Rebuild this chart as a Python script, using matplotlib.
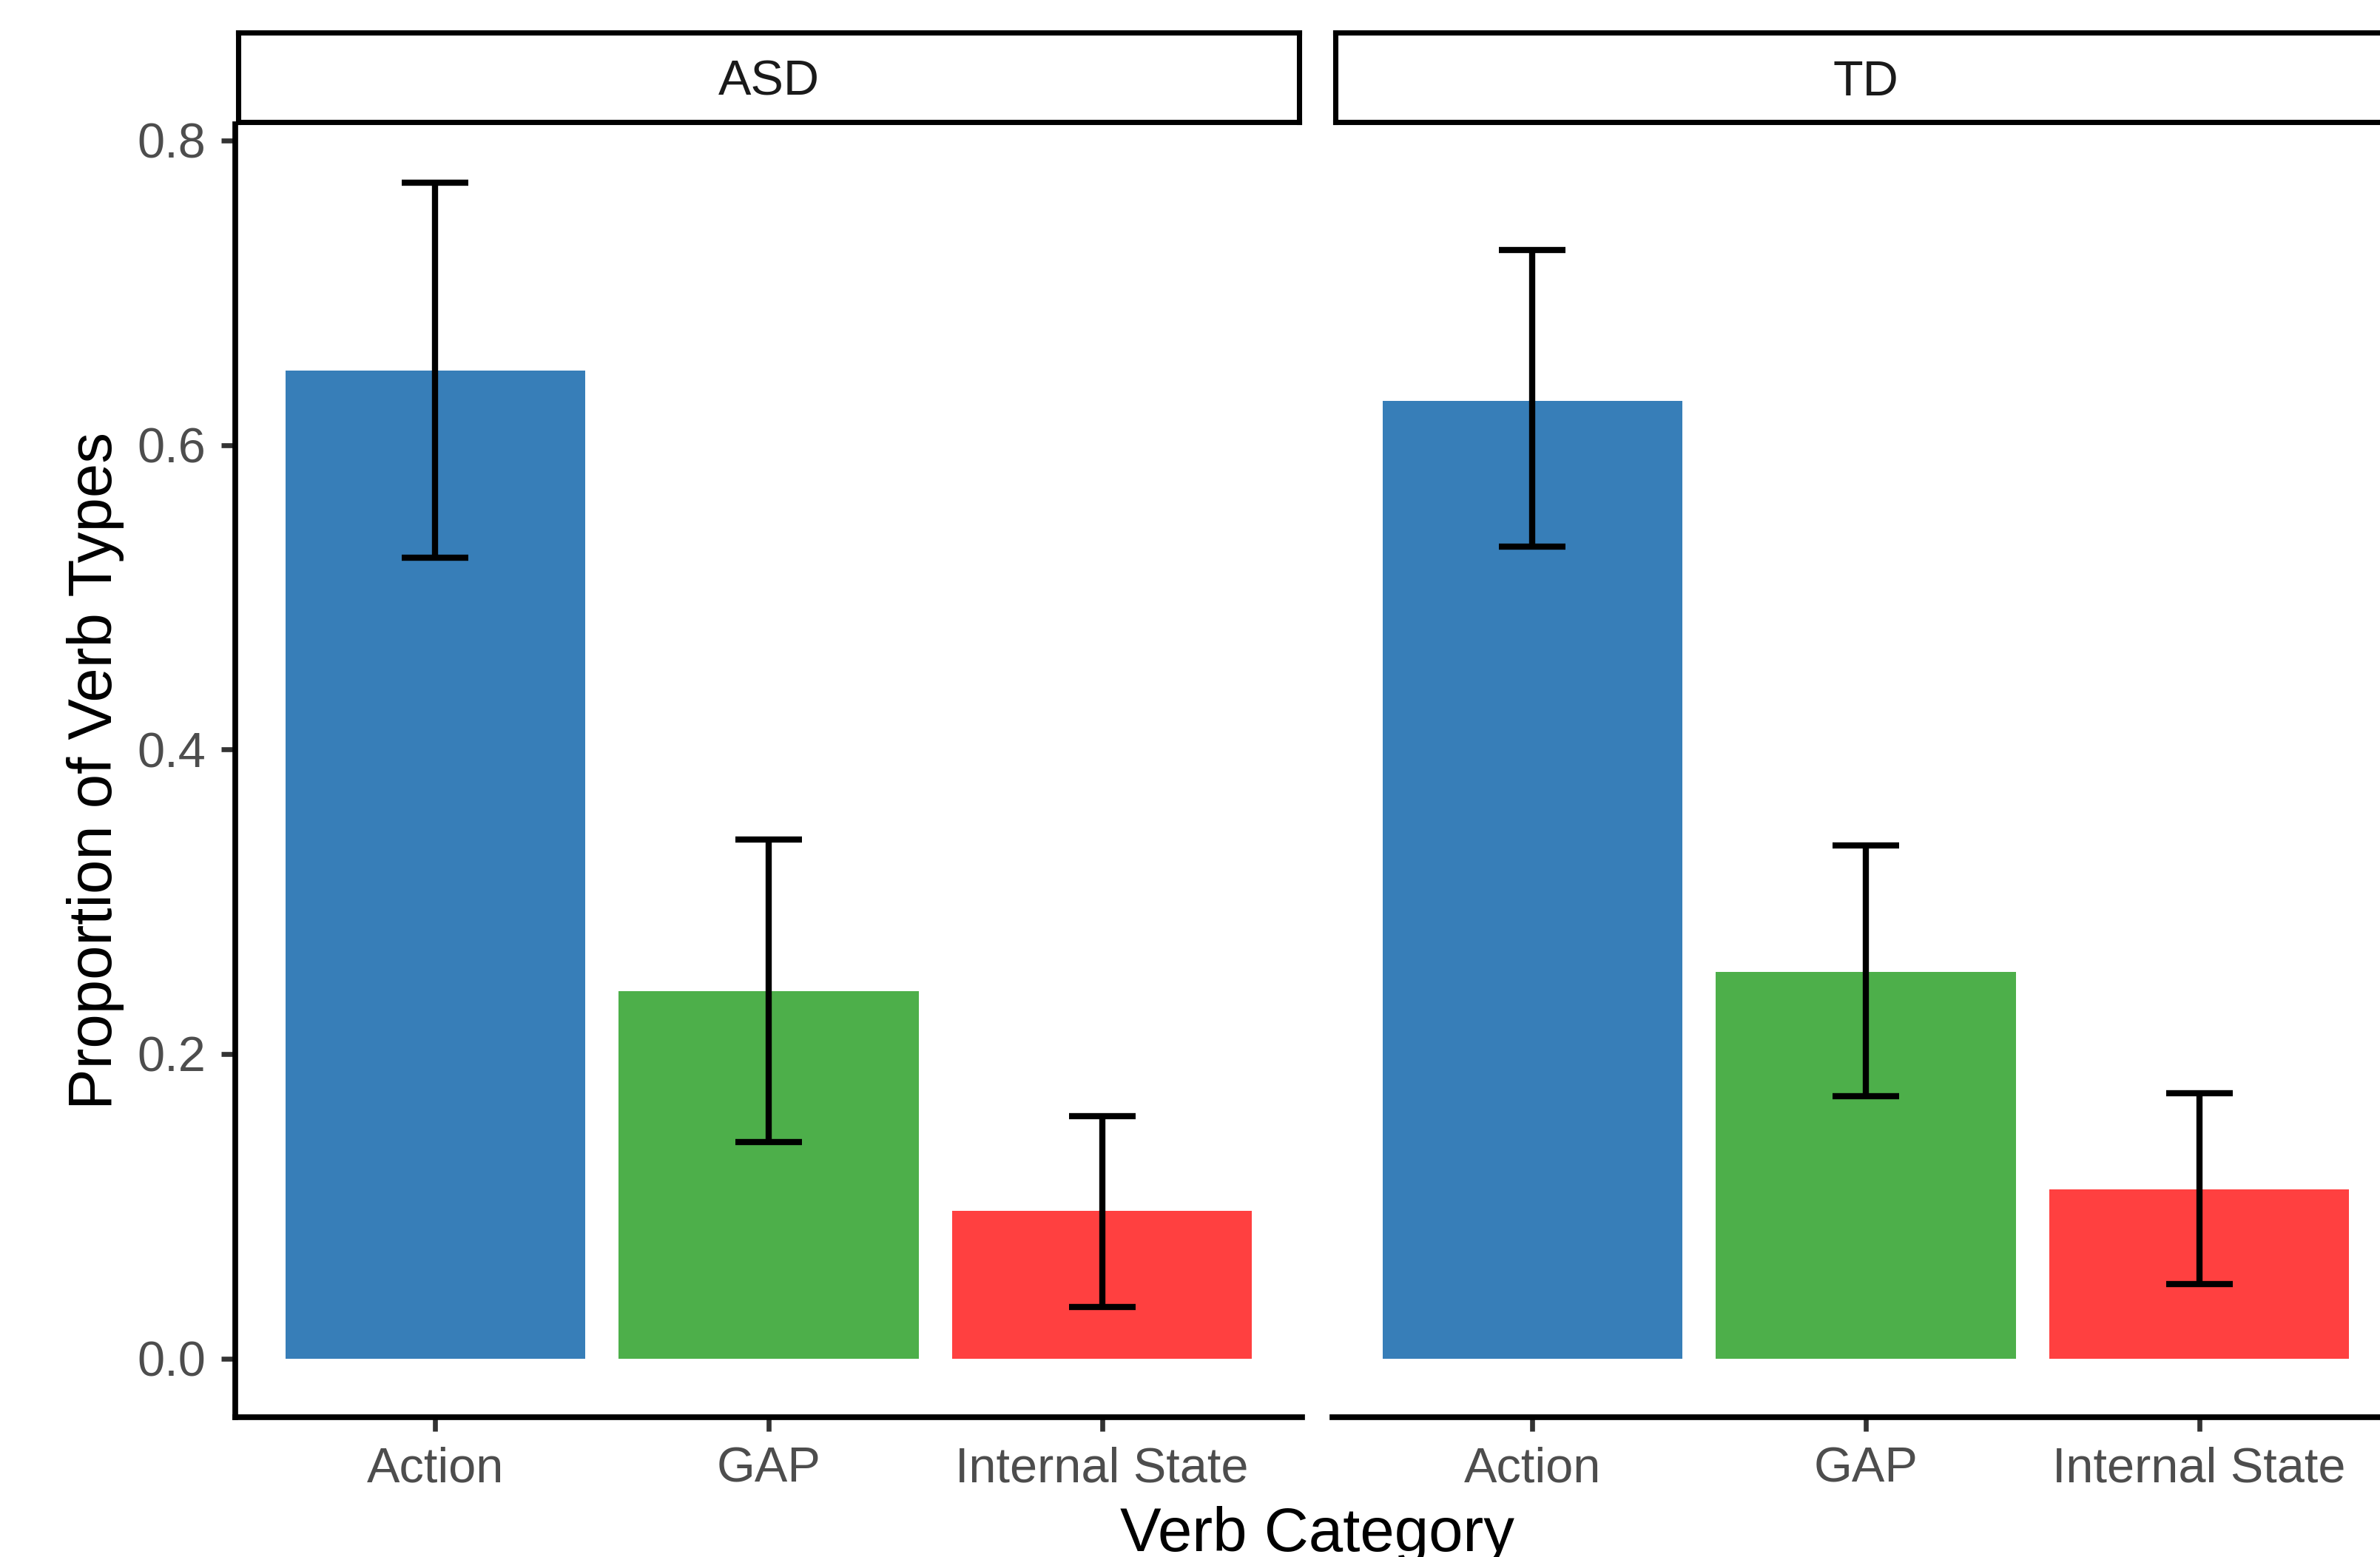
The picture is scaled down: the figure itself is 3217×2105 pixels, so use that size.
#!/usr/bin/env python3
"""Faceted bar chart: proportion of verb types by verb category, ASD vs TD."""
import matplotlib
matplotlib.use("Agg")
import matplotlib.pyplot as plt
import numpy as np

plt.rcParams["font.family"] = ["Liberation Sans", "DejaVu Sans"]

CATEGORIES = ["Action", "GAP", "Internal State"]
COLORS = ["#377EB8", "#4DAF4A", "#FF4040"]
GROUPS = ["ASD", "TD"]

ASD_MEAN = [0.649, 0.241, 0.097]
ASD_LOW = [0.526, 0.142, 0.034]
ASD_HIGH = [0.772, 0.341, 0.159]

TD_MEAN = [0.629, 0.254, 0.111]
TD_LOW = [0.533, 0.172, 0.049]
TD_HIGH = [0.728, 0.337, 0.174]

W, H = 3217, 2105
DPI = 300
AXIS_LW = 1.85
STRIP_LW = 1.7
ERR_LW = 2.0


def px(x0, y0, x1, y1):
    # pixel box (top-left origin) -> figure fraction rect
    return [x0 / W, 1 - y1 / H, (x1 - x0) / W, (y1 - y0) / H]


def panel(fig, rect, strip_rect, label, means, low, high, show_y):
    ax = fig.add_axes(rect)
    x = np.arange(len(CATEGORIES))
    means = np.array(means)
    low = np.array(low)
    high = np.array(high)
    ax.bar(x, means, width=0.9, color=COLORS, linewidth=0)
    ax.vlines(x, low, high, color="black", linewidth=ERR_LW)
    ax.hlines(low, x - 0.1, x + 0.1, color="black", linewidth=ERR_LW)
    ax.hlines(high, x - 0.1, x + 0.1, color="black", linewidth=ERR_LW)

    top = max(max(ASD_HIGH), max(TD_HIGH))
    ax.set_xlim(-0.6, 2.6)
    ax.set_ylim(-0.05 * top, 1.05 * top)
    ax.set_xticks(x)
    ax.set_xticklabels(CATEGORIES)
    ax.set_yticks([0.0, 0.2, 0.4, 0.6, 0.8])
    ax.set_yticklabels(["0.0", "0.2", "0.4", "0.6", "0.8"])
    ax.tick_params(axis="both", colors="#333333", labelcolor="#4D4D4D",
                   labelsize=16, length=4.5, width=1.6, pad=5)

    for side in ["top", "right"]:
        ax.spines[side].set_visible(False)
    ax.spines["bottom"].set_linewidth(AXIS_LW)
    ax.spines["left"].set_linewidth(AXIS_LW)
    if not show_y:
        ax.spines["left"].set_visible(False)
        ax.tick_params(axis="y", left=False, labelleft=False)

    sx = fig.add_axes(strip_rect)
    sx.set_xticks([])
    sx.set_yticks([])
    for s in sx.spines.values():
        s.set_linewidth(STRIP_LW)
        s.set_color("black")
    sx.text(0.5, 0.295, label, ha="center", va="baseline", fontsize=16,
            color="#1A1A1A", transform=sx.transAxes)
    return ax


def main():
    fig = plt.figure(figsize=(W / DPI, H / DPI), dpi=DPI)

    panel(fig, px(318, 168, 1760, 1916), px(322, 43.5, 1756, 164.5),
          GROUPS[0], ASD_MEAN, ASD_LOW, ASD_HIGH, True)
    panel(fig, px(1801, 168, 3243, 1916), px(1805, 43.5, 3239, 164.5),
          GROUPS[1], TD_MEAN, TD_LOW, TD_HIGH, False)

    fig.text(1780 / W, 1 - 2097 / H, "Verb Category", ha="center",
             va="baseline", fontsize=20, color="black")
    fig.text(90 / W, 1 - 1042 / H, "Proportion of Verb Types", ha="left",
             va="center", rotation=90, fontsize=20, color="black")

    fig.savefig("out.png", dpi=DPI)
    plt.close(fig)


if __name__ == "__main__":
    main()
